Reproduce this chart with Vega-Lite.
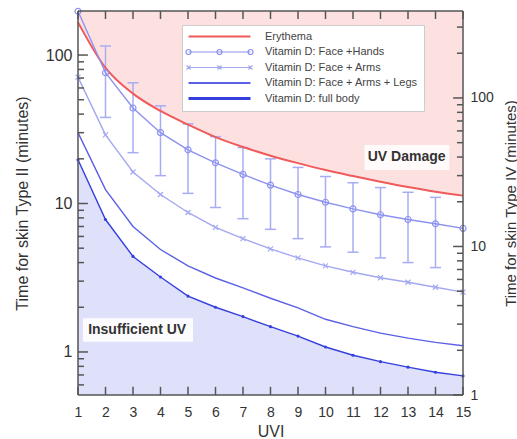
{
  "$schema": "https://vega.github.io/schema/vega-lite/v6.json",
  "width": 385,
  "height": 384,
  "autosize": {"type": "none"},
  "padding": {"left": 78, "top": 11, "right": 54, "bottom": 44},
  "background": "white",
  "datasets": {
    "curves": [
      {"uvi": 1, "series": "Erythema", "t": 166},
      {"uvi": 2, "series": "Erythema", "t": 82},
      {"uvi": 3, "series": "Erythema", "t": 55},
      {"uvi": 4, "series": "Erythema", "t": 42},
      {"uvi": 5, "series": "Erythema", "t": 34},
      {"uvi": 6, "series": "Erythema", "t": 28},
      {"uvi": 7, "series": "Erythema", "t": 24},
      {"uvi": 8, "series": "Erythema", "t": 21},
      {"uvi": 9, "series": "Erythema", "t": 18.7},
      {"uvi": 10, "series": "Erythema", "t": 16.8},
      {"uvi": 11, "series": "Erythema", "t": 15.3},
      {"uvi": 12, "series": "Erythema", "t": 14},
      {"uvi": 13, "series": "Erythema", "t": 12.9},
      {"uvi": 14, "series": "Erythema", "t": 12},
      {"uvi": 15, "series": "Erythema", "t": 11.3},
      {"uvi": 1, "series": "Vitamin D: Face +Hands", "t": 197},
      {"uvi": 2, "series": "Vitamin D: Face +Hands", "t": 76},
      {"uvi": 3, "series": "Vitamin D: Face +Hands", "t": 44},
      {"uvi": 4, "series": "Vitamin D: Face +Hands", "t": 30},
      {"uvi": 5, "series": "Vitamin D: Face +Hands", "t": 23},
      {"uvi": 6, "series": "Vitamin D: Face +Hands", "t": 18.8},
      {"uvi": 7, "series": "Vitamin D: Face +Hands", "t": 15.7},
      {"uvi": 8, "series": "Vitamin D: Face +Hands", "t": 13.3},
      {"uvi": 9, "series": "Vitamin D: Face +Hands", "t": 11.5},
      {"uvi": 10, "series": "Vitamin D: Face +Hands", "t": 10.2},
      {"uvi": 11, "series": "Vitamin D: Face +Hands", "t": 9.2},
      {"uvi": 12, "series": "Vitamin D: Face +Hands", "t": 8.4},
      {"uvi": 13, "series": "Vitamin D: Face +Hands", "t": 7.8},
      {"uvi": 14, "series": "Vitamin D: Face +Hands", "t": 7.3},
      {"uvi": 15, "series": "Vitamin D: Face +Hands", "t": 6.8},
      {"uvi": 1, "series": "Vitamin D: Face + Arms", "t": 71},
      {"uvi": 2, "series": "Vitamin D: Face + Arms", "t": 29},
      {"uvi": 3, "series": "Vitamin D: Face + Arms", "t": 16.3},
      {"uvi": 4, "series": "Vitamin D: Face + Arms", "t": 11.5},
      {"uvi": 5, "series": "Vitamin D: Face + Arms", "t": 8.7},
      {"uvi": 6, "series": "Vitamin D: Face + Arms", "t": 6.9},
      {"uvi": 7, "series": "Vitamin D: Face + Arms", "t": 5.8},
      {"uvi": 8, "series": "Vitamin D: Face + Arms", "t": 4.95},
      {"uvi": 9, "series": "Vitamin D: Face + Arms", "t": 4.3},
      {"uvi": 10, "series": "Vitamin D: Face + Arms", "t": 3.8},
      {"uvi": 11, "series": "Vitamin D: Face + Arms", "t": 3.44},
      {"uvi": 12, "series": "Vitamin D: Face + Arms", "t": 3.16},
      {"uvi": 13, "series": "Vitamin D: Face + Arms", "t": 2.95},
      {"uvi": 14, "series": "Vitamin D: Face + Arms", "t": 2.73},
      {"uvi": 15, "series": "Vitamin D: Face + Arms", "t": 2.53},
      {"uvi": 1, "series": "Vitamin D: Face + Arms + Legs", "t": 30},
      {"uvi": 2, "series": "Vitamin D: Face + Arms + Legs", "t": 12.4},
      {"uvi": 3, "series": "Vitamin D: Face + Arms + Legs", "t": 7.0},
      {"uvi": 4, "series": "Vitamin D: Face + Arms + Legs", "t": 4.9},
      {"uvi": 5, "series": "Vitamin D: Face + Arms + Legs", "t": 3.8},
      {"uvi": 6, "series": "Vitamin D: Face + Arms + Legs", "t": 3.15},
      {"uvi": 7, "series": "Vitamin D: Face + Arms + Legs", "t": 2.7},
      {"uvi": 8, "series": "Vitamin D: Face + Arms + Legs", "t": 2.3},
      {"uvi": 9, "series": "Vitamin D: Face + Arms + Legs", "t": 1.98},
      {"uvi": 10, "series": "Vitamin D: Face + Arms + Legs", "t": 1.66},
      {"uvi": 11, "series": "Vitamin D: Face + Arms + Legs", "t": 1.48},
      {"uvi": 12, "series": "Vitamin D: Face + Arms + Legs", "t": 1.34},
      {"uvi": 13, "series": "Vitamin D: Face + Arms + Legs", "t": 1.24},
      {"uvi": 14, "series": "Vitamin D: Face + Arms + Legs", "t": 1.16},
      {"uvi": 15, "series": "Vitamin D: Face + Arms + Legs", "t": 1.10},
      {"uvi": 1, "series": "Vitamin D: full body", "t": 19.7},
      {"uvi": 2, "series": "Vitamin D: full body", "t": 7.8},
      {"uvi": 3, "series": "Vitamin D: full body", "t": 4.4},
      {"uvi": 4, "series": "Vitamin D: full body", "t": 3.2},
      {"uvi": 5, "series": "Vitamin D: full body", "t": 2.38},
      {"uvi": 6, "series": "Vitamin D: full body", "t": 2.0},
      {"uvi": 7, "series": "Vitamin D: full body", "t": 1.73},
      {"uvi": 8, "series": "Vitamin D: full body", "t": 1.48},
      {"uvi": 9, "series": "Vitamin D: full body", "t": 1.28},
      {"uvi": 10, "series": "Vitamin D: full body", "t": 1.08},
      {"uvi": 11, "series": "Vitamin D: full body", "t": 0.95},
      {"uvi": 12, "series": "Vitamin D: full body", "t": 0.86},
      {"uvi": 13, "series": "Vitamin D: full body", "t": 0.79},
      {"uvi": 14, "series": "Vitamin D: full body", "t": 0.73},
      {"uvi": 15, "series": "Vitamin D: full body", "t": 0.69}
    ],
    "err": [
      {"uvi": 2, "lo": 38, "hi": 115},
      {"uvi": 3, "lo": 22, "hi": 65},
      {"uvi": 4, "lo": 15.4, "hi": 45.5},
      {"uvi": 5, "lo": 11.7, "hi": 34.4},
      {"uvi": 6, "lo": 9.4, "hi": 28.2},
      {"uvi": 7, "lo": 7.9, "hi": 23.8},
      {"uvi": 8, "lo": 6.7, "hi": 20},
      {"uvi": 9, "lo": 5.8, "hi": 17.5},
      {"uvi": 10, "lo": 5.1, "hi": 15.2},
      {"uvi": 11, "lo": 4.7, "hi": 13.8},
      {"uvi": 12, "lo": 4.3, "hi": 12.8},
      {"uvi": 13, "lo": 4.0, "hi": 11.9},
      {"uvi": 14, "lo": 3.7, "hi": 11}
    ],
    "majorTicks": [{"v": 1}, {"v": 10}, {"v": 100}],
    "leftMinorTicks": [
      {"v": 0.6}, {"v": 0.7}, {"v": 0.8}, {"v": 0.9},
      {"v": 2}, {"v": 3}, {"v": 4}, {"v": 5}, {"v": 6}, {"v": 7}, {"v": 8}, {"v": 9},
      {"v": 20}, {"v": 30}, {"v": 40}, {"v": 50}, {"v": 60}, {"v": 70}, {"v": 80}, {"v": 90}
    ],
    "rightMinorTicks": [
      {"v": 2}, {"v": 3}, {"v": 4}, {"v": 5}, {"v": 6}, {"v": 7}, {"v": 8}, {"v": 9},
      {"v": 20}, {"v": 30}, {"v": 40}, {"v": 50}, {"v": 60}, {"v": 70}, {"v": 80}, {"v": 90},
      {"v": 200}, {"v": 300}
    ],
    "one": [{}]
  },
  "resolve": {"scale": {"y": "independent"}, "axis": {"y": "independent", "x": "independent"}},
  "layer": [
    {
      "data": {"name": "curves"},
      "transform": [{"filter": "datum.series === 'Erythema'"}],
      "mark": {"type": "area", "color": "#fde1e1", "interpolate": "monotone"},
      "encoding": {
        "x": {"field": "uvi", "type": "quantitative", "scale": {"domain": [1, 15], "nice": false, "zero": false}, "axis": null},
        "y": {"field": "t", "type": "quantitative", "scale": {"type": "log", "domain": [0.513, 198], "nice": false}, "axis": null},
        "y2": {"datum": 198}
      }
    },
    {
      "data": {"name": "curves"},
      "transform": [{"filter": "datum.series === 'Vitamin D: full body'"}],
      "mark": {"type": "area", "color": "#dfe1fb"},
      "encoding": {
        "x": {"field": "uvi", "type": "quantitative", "scale": {"domain": [1, 15], "nice": false, "zero": false}, "axis": null},
        "y": {"field": "t", "type": "quantitative", "scale": {"type": "log", "domain": [0.513, 198], "nice": false}, "axis": null},
        "y2": {"datum": 0.513}
      }
    },
    {
      "data": {"name": "one"},
      "mark": {"type": "rect", "color": "white", "opacity": 0.85},
      "encoding": {
        "x": {"datum": 11.42, "type": "quantitative", "scale": {"domain": [1, 15], "nice": false, "zero": false}, "axis": null},
        "x2": {"datum": 14.5},
        "y": {"datum": 16.8, "type": "quantitative", "scale": {"type": "log", "domain": [0.513, 198], "nice": false}, "axis": null},
        "y2": {"datum": 24.8}
      }
    },
    {
      "data": {"name": "one"},
      "mark": {"type": "rect", "color": "white", "opacity": 0.9},
      "encoding": {
        "x": {"datum": 1.18, "type": "quantitative", "scale": {"domain": [1, 15], "nice": false, "zero": false}, "axis": null},
        "x2": {"datum": 5.18},
        "y": {"datum": 1.17, "type": "quantitative", "scale": {"type": "log", "domain": [0.513, 198], "nice": false}, "axis": null},
        "y2": {"datum": 1.69}
      }
    },
    {
      "data": {"name": "err"},
      "mark": {"type": "rule", "color": "#a7acf4", "strokeWidth": 1.5},
      "encoding": {
        "x": {"field": "uvi", "type": "quantitative", "scale": {"domain": [1, 15], "nice": false, "zero": false}, "axis": null},
        "y": {"field": "lo", "type": "quantitative", "scale": {"type": "log", "domain": [0.513, 198], "nice": false}, "axis": null},
        "y2": {"field": "hi"}
      }
    },
    {
      "data": {"name": "err"},
      "mark": {"type": "point", "shape": "stroke", "size": 121, "filled": false, "color": "#a7acf4", "strokeWidth": 1.5, "opacity": 1},
      "encoding": {
        "x": {"field": "uvi", "type": "quantitative", "scale": {"domain": [1, 15], "nice": false, "zero": false}, "axis": null},
        "y": {"field": "lo", "type": "quantitative", "scale": {"type": "log", "domain": [0.513, 198], "nice": false}, "axis": null}
      }
    },
    {
      "data": {"name": "err"},
      "mark": {"type": "point", "shape": "stroke", "size": 121, "filled": false, "color": "#a7acf4", "strokeWidth": 1.5, "opacity": 1},
      "encoding": {
        "x": {"field": "uvi", "type": "quantitative", "scale": {"domain": [1, 15], "nice": false, "zero": false}, "axis": null},
        "y": {"field": "hi", "type": "quantitative", "scale": {"type": "log", "domain": [0.513, 198], "nice": false}, "axis": null}
      }
    },
    {
      "data": {"name": "curves"},
      "transform": [{"filter": "datum.series === 'Erythema'"}],
      "mark": {"type": "line", "color": "#f05a5a", "strokeWidth": 2, "interpolate": "monotone"},
      "encoding": {
        "x": {"field": "uvi", "type": "quantitative", "scale": {"domain": [1, 15], "nice": false, "zero": false}, "axis": null},
        "y": {"field": "t", "type": "quantitative", "scale": {"type": "log", "domain": [0.513, 198], "nice": false}, "axis": null}
      }
    },
    {
      "data": {"name": "curves"},
      "transform": [{"filter": "datum.series !== 'Erythema'"}],
      "mark": {"type": "line"},
      "encoding": {
        "x": {"field": "uvi", "type": "quantitative", "scale": {"domain": [1, 15], "nice": false, "zero": false}, "axis": null},
        "y": {"field": "t", "type": "quantitative", "scale": {"type": "log", "domain": [0.513, 198], "nice": false}, "axis": null},
        "color": {
          "field": "series", "type": "nominal",
          "scale": {
            "domain": ["Erythema", "Vitamin D: Face +Hands", "Vitamin D: Face + Arms", "Vitamin D: Face + Arms + Legs", "Vitamin D: full body"],
            "range": ["#f05a5a", "#8c92ee", "#a3a8f1", "#5a61e6", "#3540dc"]
          },
          "legend": {
            "orient": "none",
            "legendX": 104,
            "legendY": 14,
            "title": null,
            "symbolSize": 100,
            "symbolOffset": 26,
            "labelOffset": 40,
            "labelFontSize": 11,
            "labelColor": "#444",
            "labelFont": "Liberation Sans",
            "padding": 6,
            "fillColor": "white",
            "strokeColor": "#cccccc",
            "rowPadding": 3.5,
            "zindex": 2,
            "encode": {
              "symbols": {
                "update": {
                  "shape": {"signal": "datum.value === 'Vitamin D: Face +Hands' ? 'M-6.2,0H6.2M-5.7,0A0.5,0.5,0,1,1,-6.7,0A0.5,0.5,0,1,1,-5.7,0M0.5,0A0.5,0.5,0,1,1,-0.5,0A0.5,0.5,0,1,1,0.5,0M6.7,0A0.5,0.5,0,1,1,5.7,0A0.5,0.5,0,1,1,6.7,0' : datum.value === 'Vitamin D: Face + Arms' ? 'M-6.2,0H6.2M-6.6,-0.4L-5.8,0.4M-6.6,0.4L-5.8,-0.4M-0.4,-0.4L0.4,0.4M-0.4,0.4L0.4,-0.4M5.8,-0.4L6.6,0.4M5.8,0.4L6.6,-0.4' : 'M-6.2,0H6.2'"},
                  "strokeWidth": {"signal": "datum.value === 'Vitamin D: full body' ? 3 : datum.value === 'Erythema' || datum.value === 'Vitamin D: Face + Arms + Legs' ? 2 : 1.2"},
                  "fill": {"value": "white"},
                  "fillOpacity": {"value": 1},
                  "opacity": {"value": 1}
                }
              }
            }
          }
        },
        "strokeWidth": {
          "field": "series", "type": "ordinal",
          "scale": {
            "domain": ["Vitamin D: Face +Hands", "Vitamin D: Face + Arms", "Vitamin D: Face + Arms + Legs", "Vitamin D: full body"],
            "range": [1.4, 1.4, 2, 2.8]
          },
          "legend": null
        }
      }
    },
    {
      "data": {"name": "curves"},
      "transform": [{"filter": "datum.series === 'Vitamin D: Face +Hands'"}],
      "mark": {"type": "point", "shape": "circle", "size": 36, "filled": false, "color": "#8c92ee", "strokeWidth": 1.2, "opacity": 1},
      "encoding": {
        "x": {"field": "uvi", "type": "quantitative", "scale": {"domain": [1, 15], "nice": false, "zero": false}, "axis": null},
        "y": {"field": "t", "type": "quantitative", "scale": {"type": "log", "domain": [0.513, 198], "nice": false}, "axis": null}
      }
    },
    {
      "data": {"name": "curves"},
      "transform": [{"filter": "datum.series === 'Vitamin D: Face + Arms'"}],
      "mark": {"type": "point", "shape": "M-1,-1L1,1M1,-1L-1,1", "size": 25, "filled": false, "color": "#a3a8f1", "strokeWidth": 1.2, "opacity": 1},
      "encoding": {
        "x": {"field": "uvi", "type": "quantitative", "scale": {"domain": [1, 15], "nice": false, "zero": false}, "axis": null},
        "y": {"field": "t", "type": "quantitative", "scale": {"type": "log", "domain": [0.513, 198], "nice": false}, "axis": null}
      }
    },
    {
      "data": {"name": "curves"},
      "transform": [{"filter": "datum.series === 'Vitamin D: full body'"}],
      "mark": {"type": "point", "shape": "circle", "size": 10, "filled": true, "color": "#3540dc", "opacity": 1},
      "encoding": {
        "x": {"field": "uvi", "type": "quantitative", "scale": {"domain": [1, 15], "nice": false, "zero": false}, "axis": null},
        "y": {"field": "t", "type": "quantitative", "scale": {"type": "log", "domain": [0.513, 198], "nice": false}, "axis": null}
      }
    },
    {
      "data": {"name": "one"},
      "mark": {"type": "text", "text": "UV Damage", "font": "Liberation Sans", "fontWeight": "bold", "fontSize": 14, "color": "#333333"},
      "encoding": {
        "x": {"datum": 12.95, "type": "quantitative", "scale": {"domain": [1, 15], "nice": false, "zero": false}, "axis": null},
        "y": {"datum": 20.6, "type": "quantitative", "scale": {"type": "log", "domain": [0.513, 198], "nice": false}, "axis": null}
      }
    },
    {
      "data": {"name": "one"},
      "mark": {"type": "text", "text": "Insufficient UV", "font": "Liberation Sans", "fontWeight": "bold", "fontSize": 14, "color": "#333333"},
      "encoding": {
        "x": {"datum": 3.15, "type": "quantitative", "scale": {"domain": [1, 15], "nice": false, "zero": false}, "axis": null},
        "y": {"datum": 1.41, "type": "quantitative", "scale": {"type": "log", "domain": [0.513, 198], "nice": false}, "axis": null}
      }
    },
    {
      "data": {"name": "one"},
      "mark": {"type": "rule", "color": "#555555", "strokeWidth": 1.5},
      "encoding": {
        "x": {"datum": 1, "type": "quantitative", "scale": {"domain": [1, 15], "nice": false, "zero": false}, "axis": null},
        "y": {"datum": 0.513, "type": "quantitative", "scale": {"type": "log", "domain": [0.513, 198], "nice": false}, "axis": null},
        "y2": {"datum": 198}
      }
    },
    {
      "data": {"name": "one"},
      "mark": {"type": "rule", "color": "#555555", "strokeWidth": 1.5},
      "encoding": {
        "x": {"datum": 15, "type": "quantitative", "scale": {"domain": [1, 15], "nice": false, "zero": false}, "axis": null},
        "y": {"datum": 0.513, "type": "quantitative", "scale": {"type": "log", "domain": [0.513, 198], "nice": false}, "axis": null},
        "y2": {"datum": 198}
      }
    },
    {
      "data": {"name": "one"},
      "mark": {"type": "rule", "color": "#555555", "strokeWidth": 1.5},
      "encoding": {
        "x": {"datum": 1, "type": "quantitative", "scale": {"domain": [1, 15], "nice": false, "zero": false}, "axis": null},
        "x2": {"datum": 15},
        "y": {"datum": 0.513, "type": "quantitative", "scale": {"type": "log", "domain": [0.513, 198], "nice": false}, "axis": null}
      }
    },
    {
      "data": {"name": "one"},
      "mark": {"type": "rule", "color": "#555555", "strokeWidth": 1.5},
      "encoding": {
        "x": {"datum": 1, "type": "quantitative", "scale": {"domain": [1, 15], "nice": false, "zero": false}, "axis": null},
        "x2": {"datum": 15},
        "y": {"datum": 198, "type": "quantitative", "scale": {"type": "log", "domain": [0.513, 198], "nice": false}, "axis": null}
      }
    },
    {
      "data": {"name": "curves"},
      "transform": [{"filter": "datum.series === 'Erythema'"}],
      "mark": {"type": "rule", "color": "#555555", "strokeWidth": 1.5},
      "encoding": {
        "x": {"field": "uvi", "type": "quantitative", "scale": {"domain": [1, 15], "nice": false, "zero": false}, "axis": null},
        "y": {"datum": 0.513, "type": "quantitative", "scale": {"type": "log", "domain": [0.513, 198], "nice": false}, "axis": null},
        "y2": {"datum": 0.582}
      }
    },
    {
      "data": {"name": "curves"},
      "transform": [{"filter": "datum.series === 'Erythema'"}],
      "mark": {"type": "rule", "color": "#555555", "strokeWidth": 1.5},
      "encoding": {
        "x": {"field": "uvi", "type": "quantitative", "scale": {"domain": [1, 15], "nice": false, "zero": false}, "axis": null},
        "y": {"datum": 198, "type": "quantitative", "scale": {"type": "log", "domain": [0.513, 198], "nice": false}, "axis": null},
        "y2": {"datum": 175}
      }
    },
    {
      "data": {"name": "majorTicks"},
      "mark": {"type": "rule", "color": "#555555", "strokeWidth": 1.5},
      "encoding": {
        "x": {"datum": 1, "type": "quantitative", "scale": {"domain": [1, 15], "nice": false, "zero": false}, "axis": null},
        "x2": {"datum": 1.36},
        "y": {"field": "v", "type": "quantitative", "scale": {"type": "log", "domain": [0.513, 198], "nice": false}, "axis": null}
      }
    },
    {
      "data": {"name": "leftMinorTicks"},
      "mark": {"type": "rule", "color": "#555555", "strokeWidth": 1.5},
      "encoding": {
        "x": {"datum": 1, "type": "quantitative", "scale": {"domain": [1, 15], "nice": false, "zero": false}, "axis": null},
        "x2": {"datum": 1.22},
        "y": {"field": "v", "type": "quantitative", "scale": {"type": "log", "domain": [0.513, 198], "nice": false}, "axis": null}
      }
    },
    {
      "data": {"name": "majorTicks"},
      "mark": {"type": "rule", "color": "#555555", "strokeWidth": 1.5},
      "encoding": {
        "x": {"datum": 15, "type": "quantitative", "scale": {"domain": [1, 15], "nice": false, "zero": false}, "axis": null},
        "x2": {"datum": 14.64},
        "y": {"field": "v", "type": "quantitative", "scale": {"type": "log", "domain": [1, 385], "nice": false}, "axis": null}
      }
    },
    {
      "data": {"name": "rightMinorTicks"},
      "mark": {"type": "rule", "color": "#555555", "strokeWidth": 1.5},
      "encoding": {
        "x": {"datum": 15, "type": "quantitative", "scale": {"domain": [1, 15], "nice": false, "zero": false}, "axis": null},
        "x2": {"datum": 14.78},
        "y": {"field": "v", "type": "quantitative", "scale": {"type": "log", "domain": [1, 385], "nice": false}, "axis": null}
      }
    },
    {
      "data": {"name": "curves"},
      "transform": [{"filter": "datum.series === 'Erythema'"}],
      "mark": {"type": "point", "opacity": 0},
      "encoding": {
        "x": {"field": "uvi", "type": "quantitative", "scale": {"domain": [1, 15], "nice": false, "zero": false},
          "axis": {"orient": "bottom", "values": [1, 2, 3, 4, 5, 6, 7, 8, 9, 10, 11, 12, 13, 14, 15], "domain": false, "ticks": false, "labelPadding": 10, "labelFontSize": 14, "labelFlush": false, "labelOverlap": false, "title": "UVI", "titleFontSize": 16, "titlePadding": 4}},
        "y": {"field": "t", "type": "quantitative", "scale": {"type": "log", "domain": [0.513, 198], "nice": false},
          "axis": {"orient": "left", "values": [1, 10, 100], "format": "d", "domain": false, "ticks": false, "labelPadding": 6, "labelFontSize": 16, "title": "Time for skin Type II (minutes)", "titleFontSize": 16, "titleAngle": -90, "titleX": -56, "titleY": 192, "titleBaseline": "middle", "titleAlign": "center"}}
      }
    },
    {
      "data": {"name": "one"},
      "mark": {"type": "point", "opacity": 0},
      "encoding": {
        "x": {"datum": 5, "type": "quantitative", "scale": {"domain": [1, 15], "nice": false, "zero": false}, "axis": null},
        "y": {"datum": 10, "type": "quantitative", "scale": {"type": "log", "domain": [1, 385], "nice": false},
          "axis": {"orient": "right", "values": [1, 10, 100], "format": "d", "domain": false, "ticks": false, "labelPadding": 7, "labelFontSize": 14, "title": "Time for skin Type IV (minutes)", "titleFontSize": 15, "titleAngle": 270, "titleX": 47, "titleY": 192, "titleBaseline": "middle", "titleAlign": "center"}}
      }
    }
  ],
  "config": {
    "view": {"stroke": null},
    "axis": {
      "grid": false,
      "labelColor": "#333333",
      "titleColor": "#333333",
      "labelFont": "Liberation Sans",
      "titleFont": "Liberation Sans",
      "titleFontWeight": "normal"
    }
  }
}
